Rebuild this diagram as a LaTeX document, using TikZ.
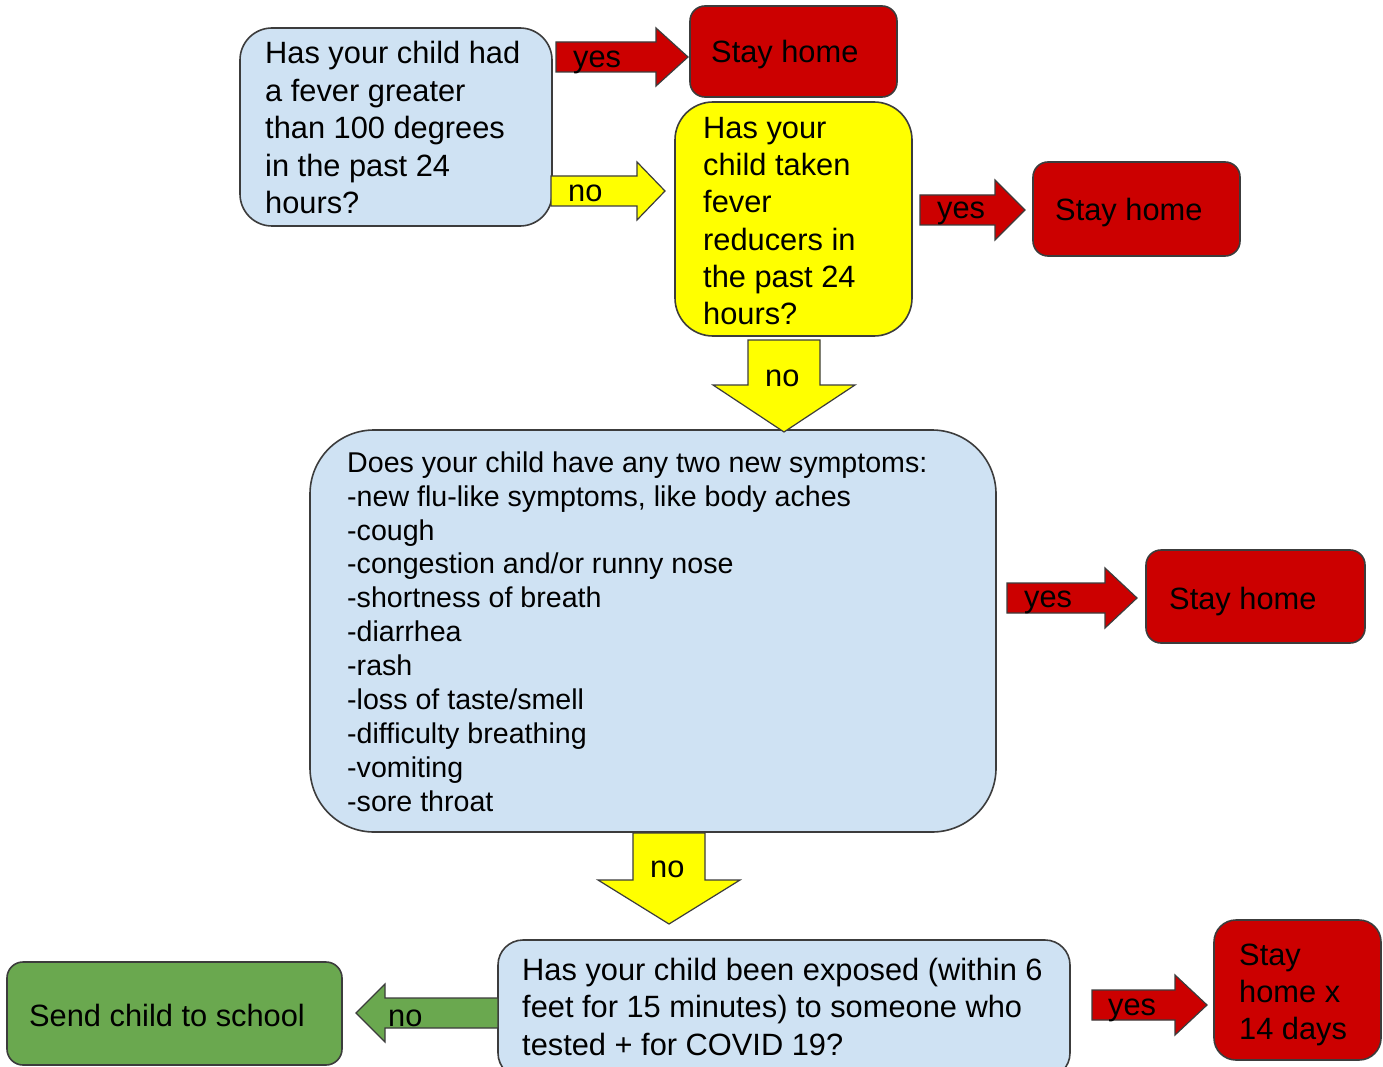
\documentclass[tikz,border=0pt]{standalone}
\usepackage{fontspec}
\setmainfont{Liberation Sans}
\usetikzlibrary{calc}
\definecolor{qblue}{HTML}{CFE2F3}
\definecolor{sred}{HTML}{CC0000}
\definecolor{ayel}{HTML}{FFFF00}
\definecolor{ggreen}{HTML}{6AA84F}
\definecolor{edge}{HTML}{3C3C3C}
\tikzset{
  box/.style={draw=edge, line width=1.6pt, inner sep=0pt},
  arrowline/.style={draw=edge, line width=1.2pt, line join=miter},
  txt/.style={inner sep=0pt, align=left, text=black, font={\fontsize{30.8}{37.5}\selectfont}},
  smalltxt/.style={inner sep=0pt, align=left, text=black, font={\fontsize{28.6}{33.9}\selectfont}},
  lbl/.style={inner sep=0pt, anchor=base west, text=black, font={\fontsize{30.8}{37.5}\selectfont}}
}
\newcommand\blockarrow[6]{%
  \coordinate (bkP) at ($(#3)!#6pt!(#2)$);
  \draw[arrowline,#1] ($(#2)!#4pt!90:(#3)$) -- ($(bkP)!#4pt!90:(#3)$) -- ($(bkP)!#5pt!90:(#3)$) -- (#3)
    -- ($(bkP)!#5pt!-90:(#3)$) -- ($(bkP)!#4pt!-90:(#3)$) -- ($(#2)!#4pt!-90:(#3)$) -- cycle;}
\begin{document}
\begin{tikzpicture}[x=1pt,y=-1pt]
\useasboundingbox[fill=white] (0,0) rectangle (1383,1067);
% boxes
\node[box, fill=qblue, minimum width=312, minimum height=198, rounded corners=32] (q1) at (396,127) {};
\node[box, fill=sred, minimum width=207, minimum height=91, rounded corners=15] (s1) at (793.5,51.5) {};
\node[box, fill=ayel, minimum width=237, minimum height=234, rounded corners=38] (q2) at (793.5,219) {};
\node[box, fill=sred, minimum width=207, minimum height=94, rounded corners=15] (s2) at (1136.5,209) {};
\node[box, fill=qblue, minimum width=686, minimum height=402, rounded corners=64] (q3) at (653,631) {};
\node[box, fill=sred, minimum width=219, minimum height=93, rounded corners=15] (s3) at (1255.5,596.5) {};
\node[box, fill=qblue, minimum width=572, minimum height=138, rounded corners=25] (q4) at (784,1009) {};
\node[box, fill=sred, minimum width=167, minimum height=140, rounded corners=22] (s4) at (1297.5,990) {};
\node[box, fill=ggreen, minimum width=335, minimum height=103, rounded corners=16] (go) at (174.5,1013.5) {};
% arrow end points
\coordinate (y1a) at (556,57);   \coordinate (y1b) at (688,57);
\coordinate (n1a) at (551,191);  \coordinate (n1b) at (665,191);
\coordinate (y2a) at (920,210);  \coordinate (y2b) at (1025,210);
\coordinate (n2a) at (784,340);  \coordinate (n2b) at (784,432);
\coordinate (y3a) at (1007,598); \coordinate (y3b) at (1137,598);
\coordinate (n3a) at (669,833);  \coordinate (n3b) at (669,924);
\coordinate (n4a) at (498,1013); \coordinate (n4b) at (356,1013);
\coordinate (y4a) at (1092,1005);\coordinate (y4b) at (1207,1005);
\blockarrow{fill=sred}{y1a}{y1b}{15}{29}{32}
\blockarrow{fill=ayel}{n1a}{n1b}{15}{29}{28}
\blockarrow{fill=sred}{y2a}{y2b}{15}{30}{30}
\blockarrow{fill=ayel}{n2a}{n2b}{36}{71}{47}
\blockarrow{fill=sred}{y3a}{y3b}{15}{30}{32}
\blockarrow{fill=ayel}{n3a}{n3b}{36}{71}{44}
\blockarrow{fill=ggreen}{n4a}{n4b}{15}{29}{29}
\blockarrow{fill=sred}{y4a}{y4b}{15}{30}{32}
% box texts
\node[txt, anchor=north west] (q1t) at (265,37.25) {\strut Has your child had\\a fever greater\\than 100 degrees\\in the past 24\\hours?};
\node[txt, anchor=north west, font={\fontsize{30.8}{37.3}\selectfont}] (q2t) at (703,111.9) {\strut Has your\\child taken\\fever\\reducers in\\the past 24\\hours?};
\node[smalltxt, anchor=north west] (q3t) at (347,448.3) {\strut Does your child have any two new symptoms:\\-new flu-like symptoms, like body aches\\-cough\\-congestion and/or runny nose\\-shortness of breath\\-diarrhea\\-rash\\-loss of taste/smell\\-difficulty breathing\\-vomiting\\-sore throat};
\node[txt, anchor=north west] (q4t) at (522,953.75) {\strut Has your child been exposed (within 6\\feet for 15 minutes) to someone who\\tested + for COVID 19?};
\node[txt, anchor=north west, font={\fontsize{30.8}{37}\selectfont}] (s4t) at (1239,939.1) {\strut Stay\\home x\\14 days};
\node[lbl] (s1t) at (711,63) {Stay home};
\node[lbl] (s2t) at (1055,221) {Stay home};
\node[lbl] (s3t) at (1169,609) {Stay home};
\node[lbl] (got) at (29,1026) {Send child to school};
% arrow labels
\node[lbl] (y1l) at (573,68) {yes};
\node[lbl] (n1l) at (568,202) {no};
\node[lbl] (y2l) at (937,219) {yes};
\node[lbl] (n2l) at (765,386) {no};
\node[lbl] (y3l) at (1024,607) {yes};
\node[lbl] (n3l) at (650,877) {no};
\node[lbl] (n4l) at (388,1026) {no};
\node[lbl] (y4l) at (1108,1015) {yes};
\end{tikzpicture}
\end{document}
